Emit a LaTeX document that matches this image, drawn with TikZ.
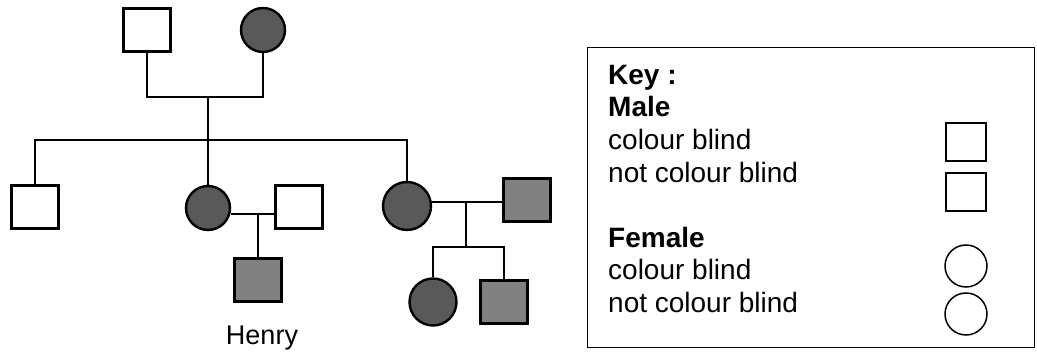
\documentclass[tikz,border=0pt]{standalone}
\usepackage{fontspec}
\setmainfont{Liberation Sans}
\begin{document}
\begin{tikzpicture}[x=1pt,y=-1pt,
  male/.style={draw,line width=2.4pt,minimum width=47pt,minimum height=43pt,inner sep=0pt},
  female/.style={draw,circle,line width=2.4pt,minimum size=44pt,inner sep=0pt},
  affm/.style={fill=black!50},
  afff/.style={fill=black!65},
  link/.style={line width=2.4pt},
  keysq/.style={draw,line width=1.5pt,minimum width=40pt,minimum height=38pt,inner sep=0pt},
  keyci/.style={draw,circle,line width=1.5pt,minimum size=42pt,inner sep=0pt},
  keytxt/.style={anchor=base west,inner sep=0pt,font=\fontsize{28}{30}\selectfont},
  keyhead/.style={keytxt,font=\fontsize{28}{30}\selectfont\bfseries}]
\useasboundingbox (0,0) rectangle (1037,352);
% generation I
\node[male] (gf) at (147,30) {};
\node[female,afff] (gm) at (263,30) {};
\coordinate (m1) at (208,97);
\draw[link] (gf.south) |- (m1) -| (gm.south);
\coordinate (s1) at (208,140);
\draw[link] (m1) -- (s1);
% generation II
\node[male] (c1) at (35,207) {};
\node[female,afff] (c2) at (208,208) {};
\node[male] (h2) at (299,207) {};
\node[female,afff,minimum size=48pt] (c3) at (407,206) {};
\node[male,affm] (h3) at (527,200) {};
\draw[link] (c1.north) |- (s1) -| (c3.north);
\draw[link] (s1) -- (c2.north);
% family of c2
\coordinate (m2) at (258,214);
\draw[link] (m2 -| c2.east) -- (m2 -| h2.west);
\node[male,affm] (henry) at (258,280) {};
\draw[link] (m2) -- (henry.north);
\node[anchor=base,inner sep=0pt,font=\fontsize{27}{30}\selectfont] (hname) at (262,345) {Henry};
% family of c3
\coordinate (m3) at (466,202);
\draw[link] (m3 -| c3.east) -- (m3 -| h3.west);
\coordinate (s3) at (466,247);
\draw[link] (m3) -- (s3);
\node[female,afff,minimum size=47pt] (g1) at (433,302) {};
\node[male,affm] (g2) at (504,302) {};
\draw[link] (g1.north) |- (s3) -| (g2.north);
% key
\node[draw,line width=1.6pt,minimum width=447pt,minimum height=300pt,inner sep=0pt] (keybox) at (811,197.5) {};
\node[keyhead] (k1) at (608,85) {Key :};
\node[keyhead] (k2) at (608,117) {Male};
\node[keytxt] (k3) at (608,150) {colour blind};
\node[keytxt] (k4) at (608,183) {not colour blind};
\node[keyhead] (k5) at (608,248) {Female};
\node[keytxt] (k6) at (608,280) {colour blind};
\node[keytxt] (k7) at (608,313) {not colour blind};
\node[keysq] (ks1) at (966,142) {};
\node[keysq] (ks2) at (966,192) {};
\node[keyci] (kc1) at (966,266) {};
\node[keyci] (kc2) at (966,314) {};
\end{tikzpicture}
\end{document}
